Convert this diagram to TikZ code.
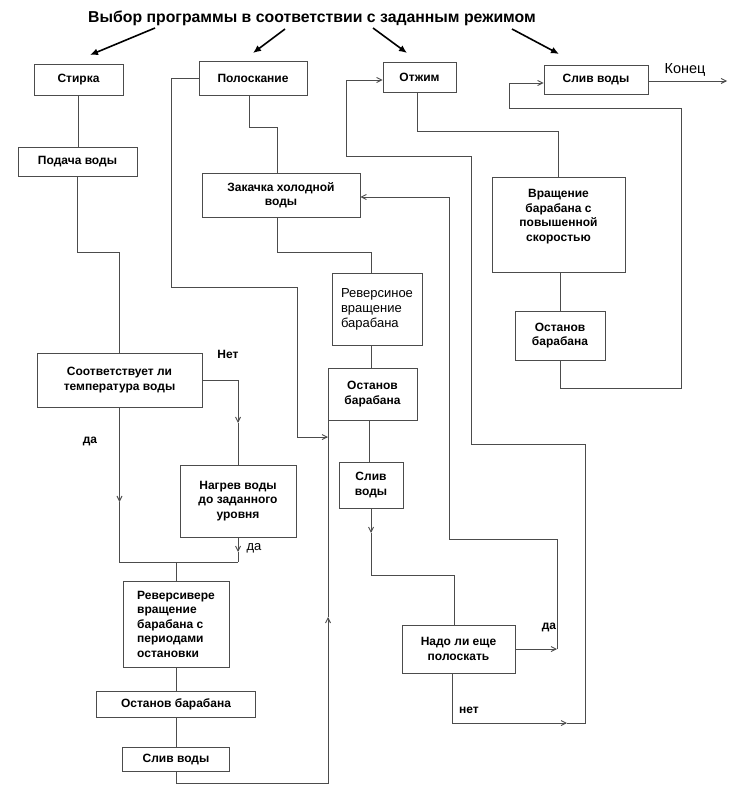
\documentclass[tikz,border=0pt]{standalone}
\usepackage{fontspec}
\setmainfont{Liberation Sans}
\usetikzlibrary{arrows.meta}

\tikzset{
  blk/.style={draw=black!70, line width=0.9pt, inner sep=2pt, align=center,
    font=\fontsize{12}{14.5}\selectfont\bfseries},
  wire/.style={draw=black!70, line width=0.9pt},
  lbl/.style={font=\fontsize{12}{14}\selectfont\bfseries, inner sep=0pt},
}

\begin{document}
\begin{tikzpicture}[x=1pt, y=-1pt, >={Straight Barb[length=5pt,width=5pt]}]
\useasboundingbox (0,0) rectangle (730,786);
% title with the four choices
\node[font=\fontsize{15.8}{18}\selectfont\bfseries] (title) at (312,18) {Выбор программы в соответствии с заданным режимом};
\foreach \a/\b/\c/\d [count=\k] in {155/28/90/55, 285/29/253/53, 373/28/407/53, 512/29/559/54}{
  \coordinate (t\k) at (\a,\b);
  \coordinate (h\k) at (\c,\d);
  \draw[line width=1.6pt, -{Latex[length=8pt,width=7pt]}] (t\k) -- (h\k);
}
% top row
\node[blk, minimum width=89pt, minimum height=31pt] (stirka) at (78.5,79.5) {Стирка};
\node[blk, minimum width=108pt, minimum height=34pt] (polosk) at (253,78) {Полоскание};
\node[blk, minimum width=73pt, minimum height=30pt] (otzhim) at (419.5,77) {Отжим};
\node[blk, minimum width=104pt, minimum height=29pt] (slivK) at (596,79.5) {Слив воды};
% washing column
\node[blk, minimum width=119pt, minimum height=29pt] (podacha) at (77.5,161.5) {Подача воды};
\node[blk, minimum width=165pt, minimum height=54pt] (sootv) at (119.5,380) {Соответствует ли\\температура воды};
\node[blk, minimum width=116pt, minimum height=72pt] (nagrev) at (238,501) {Нагрев воды\\до заданного\\уровня};
\node[blk, align=left, minimum width=106pt, minimum height=86pt] (rev1) at (176,624) {Реверсивере\\вращение\\барабана с\\периодами\\остановки};
\node[blk, minimum width=159pt, minimum height=26pt] (ost1) at (176,704) {Останов барабана};
\node[blk, minimum width=107pt, minimum height=24pt] (sliv1) at (176,759) {Слив воды};
% rinsing column
\node[blk, minimum width=158pt, minimum height=44pt] (zakach) at (281,195) {Закачка холодной\\воды};
\node[blk, font=\fontsize{13}{15}\selectfont, align=left, minimum width=90pt, minimum height=72pt] (rev2) at (377,309) {Реверсиное\\вращение\\барабана};
\node[blk, minimum width=89pt, minimum height=52pt] (ost2) at (372.5,394) {Останов\\барабана};
\node[blk, minimum width=64pt, minimum height=46pt] (sliv2) at (371,485) {Слив\\воды};
\node[blk, minimum width=113pt, minimum height=48pt] (nado) at (458.5,649) {Надо ли еще\\полоскать};
% spinning column
\node[blk, minimum width=133pt, minimum height=95pt] (vrash) at (558.5,224.5) {Вращение\\барабана с\\повышенной\\скоростью\\[4pt]};
\node[blk, minimum width=90pt, minimum height=49pt] (ost3) at (560,335.5) {Останов\\барабана};

% washing connectors
\draw[wire] (stirka.south) -- (stirka.south |- podacha.north);
\draw[wire] (podacha.south) -- ++(0,76) -| (sootv.north);
\coordinate (netA) at (238,423);
\draw[wire, ->] (sootv.east) -| (netA);
\draw[wire] (netA) -- (nagrev.north);
\coordinate (daA) at (119.5,502);
\draw[wire, ->] (sootv.south) -- (daA);
\draw[wire] (daA) |- (238,562);
\coordinate (daB) at (238,552);
\draw[wire, ->] (nagrev.south) -- (daB);
\draw[wire] (daB) -- ++(0,10);
\coordinate (joinL) at (176,562);
\draw[wire] (joinL) -- (rev1.north);
\draw[wire] (rev1) -- (ost1);
\draw[wire] (ost1) -- (sliv1);
\coordinate (upA) at (328,617);
\draw[wire, ->] (sliv1.south) -- ++(0,12) -| (upA);
\draw[wire] (upA) -- (upA |- ost2.south);
\node[lbl] (net1) at (228,354) {Нет};
\node[lbl] (da1) at (90,441) {да};
\node[lbl, font=\fontsize{13}{14}\selectfont] (da2) at (254,548) {да};

% rinsing connectors
\coordinate (inA) at (328,437);
\draw[wire, ->] (polosk.west) -- ++(-27,0) |- (297,287) |- (inA);
\draw[wire] ([xshift=-4pt]polosk.south) -- ++(0,32) -| ([xshift=-4pt]zakach.north);
\draw[wire] ([xshift=-4pt]zakach.south) -- ++(0,35) -| ([xshift=-6pt]rev2.north);
\draw[wire] ([xshift=-6pt]rev2.south) -- ([xshift=-1.5pt]ost2.north);
\draw[wire] ([xshift=-3.5pt]ost2.south) -- ([xshift=-2pt]sliv2.north);
\coordinate (dnA) at (371,533);
\draw[wire, ->] (sliv2.south) -- (dnA);
\draw[wire] (dnA) -- ++(0,42) -| ([xshift=-4.5pt]nado.north);
\coordinate (daC) at (557,649);
\draw[wire, ->] (nado.east) -- (daC);
\draw[wire, ->] (daC) |- (449,539) |- ([yshift=-2pt]zakach.east);
\coordinate (netC) at (567,723);
\draw[wire, ->] ([xshift=-6.5pt]nado.south) |- (netC);
\draw[wire, ->] (netC) -- (585,723) |- (471,444) |- (346,156) |- ([yshift=-3pt]otzhim.west);
\node[lbl] (da3) at (549,627) {да};
\node[lbl] (net2) at (469,710) {нет};

% spinning connectors
\draw[wire] ([xshift=-2.5pt]otzhim.south) -- ++(0,39) -| (vrash.north);
\draw[wire] ([xshift=1.5pt]vrash.south) -- (ost3.north);
\draw[wire, ->] (ost3.south) -- ++(0,28) -| (681,108) -| (509,83) -- ([yshift=-3.5pt]slivK.west);
\coordinate (fin) at (727,81);
\draw[wire, ->] ([yshift=-1.5pt]slivK.east) -- (fin);
\node[font=\fontsize{14.5}{16}\selectfont] (konec) at (685,70) {Конец};
\end{tikzpicture}
\end{document}
